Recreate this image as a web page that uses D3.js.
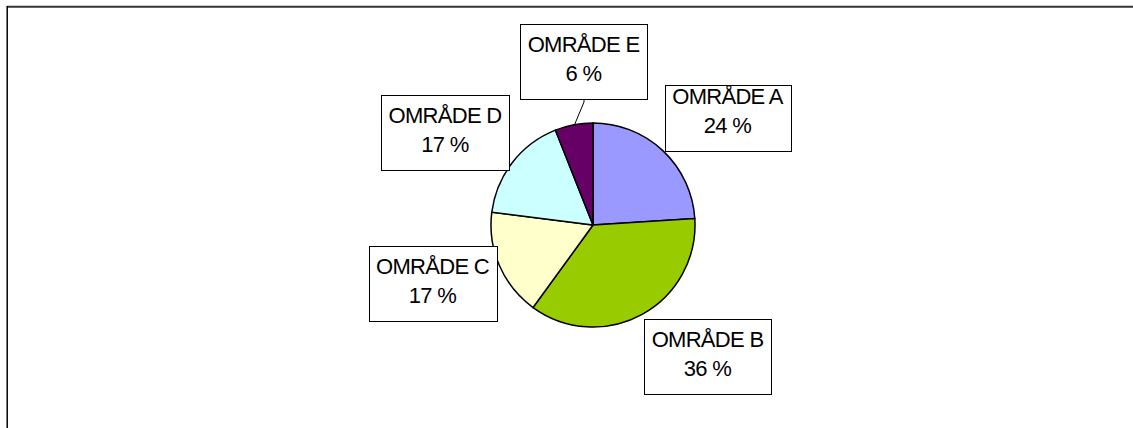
<!DOCTYPE html>
<html>
<head>
<meta charset="utf-8">
<script src="https://cdn.jsdelivr.net/npm/d3@7"></script>
<style>
  body { margin: 0; background: #fff; }
  text { font-family: "Liberation Sans", Arial, sans-serif; }
</style>
</head>
<body>
<div id="chart"></div>
<script>
"use strict";

// data
const areas = ["OMRÅDE A", "OMRÅDE B", "OMRÅDE C", "OMRÅDE D", "OMRÅDE E"];
const shares = [24, 36, 17, 17, 6];
const colors = ["#9999ff", "#99cc00", "#ffffcc", "#ccffff", "#660066"];

const drawPie = () => {
  const width = 1133, height = 428;
  const cx = 593, cy = 225, radius = 102;

  const svg = d3.select("#chart")
    .append("svg")
    .attr("width", width)
    .attr("height", height);

  // frame (top + left only)
  svg.append("line")
    .attr("x1", 7).attr("x2", width)
    .attr("y1", 6.7).attr("y2", 6.7)
    .attr("stroke", "#333").attr("stroke-width", 2);
  svg.append("line")
    .attr("x1", 7.2).attr("x2", 7.2)
    .attr("y1", 6).attr("y2", height)
    .attr("stroke", "#000").attr("stroke-width", 1.5);

  const color = d3.scaleOrdinal().domain(areas).range(colors);

  const pie = d3.pie().sort(null).value((d) => d.value);
  const arcs = pie(areas.map((a, i) => ({ name: a, value: shares[i] })));
  const arc = d3.arc().innerRadius(0).outerRadius(radius);

  const g = svg.append("g").attr("transform", `translate(${cx},${cy})`);

  g.selectAll("path")
    .data(arcs)
    .enter()
    .append("path")
    .attr("d", arc)
    .attr("fill", (d) => color(d.data.name))
    .attr("stroke", "#000")
    .attr("stroke-width", 1.5);

  // label boxes: center x offset, bottom y offset (relative to pie centre), box height
  const boxLayout = [
    { dx: 134.5, bottom: -74, h: 66 },
    { dx: 114.5, bottom: 169, h: 75 },
    { dx: -160.5, bottom: 96, h: 75 },
    { dx: -148, bottom: -55, h: 75 },
    { dx: -9.5, bottom: -126, h: 75 },
  ];

  // leader line for the small slice E
  const eArc = arcs[4];
  const ang = (eArc.startAngle + eArc.endAngle) / 2;
  const edge = [Math.sin(ang) * radius * 0.99, -Math.cos(ang) * radius * 0.99];
  g.append("path")
    .attr("d", `M${-9},${boxLayout[4].bottom} L${-9},${boxLayout[4].bottom + 3} L${edge[0]},${edge[1]}`)
    .attr("fill", "none")
    .attr("stroke", "#000")
    .attr("stroke-width", 1);

  const labels = g.selectAll("g.label")
    .data(arcs)
    .enter()
    .append("g")
    .attr("class", "label");

  labels.each(function (d, i) {
    const sel = d3.select(this);
    const L = boxLayout[i];
    const rect = sel.append("rect");
    const t1 = sel.append("text")
      .attr("x", L.dx)
      .attr("y", L.bottom - 47)
      .attr("text-anchor", "middle")
      .attr("font-size", "22px")
      .attr("letter-spacing", "-0.7px")
      .attr("fill", "#000")
      .text(d.data.name);
    sel.append("text")
      .attr("x", L.dx)
      .attr("y", L.bottom - 18)
      .attr("text-anchor", "middle")
      .attr("font-size", "22px")
      .attr("letter-spacing", "-0.7px")
      .attr("fill", "#000")
      .text(d.data.value + " %");
    const w = t1.node().getComputedTextLength() + 15;
    rect
      .attr("x", Math.round(L.dx - w / 2) + 0.5)
      .attr("y", L.bottom - L.h + 0.5)
      .attr("width", Math.round(w))
      .attr("height", L.h)
      .attr("fill", "#fff")
      .attr("stroke", "#000")
      .attr("stroke-width", 1);
  });
};

drawPie();
</script>
</body>
</html>
